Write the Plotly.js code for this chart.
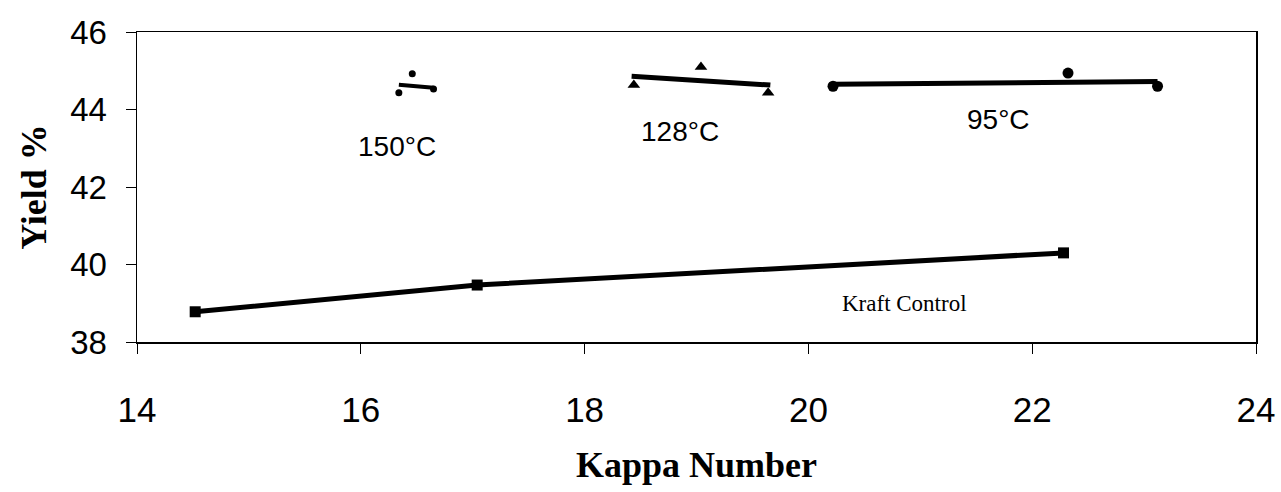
<!DOCTYPE html>
<html>
<head>
<meta charset="utf-8">
<script src="https://cdn.plot.ly/plotly-3.0.1.min.js"></script>
<style>html,body{margin:0;padding:0;background:#fff;}#chart{width:1281px;height:492px;}</style>
</head>
<body>
<div id="chart"></div>
<script>
// Kraft control
const kraftKappa = [14.52, 17.04, 22.28];
const kraftYield = [38.78, 39.47, 40.3];
// 150°C
const t150Kappa = [16.34, 16.46, 16.65];
const t150Yield = [44.43, 44.92, 44.53];
const t150FitKappa = [16.34, 16.65];
const t150FitYield = [44.64, 44.56];
// 128°C
const t128Kappa = [18.44, 19.04, 19.64];
const t128Yield = [44.63, 45.1, 44.43];
const t128FitKappa = [18.42, 19.66];
const t128FitYield = [44.86, 44.63];
// 95°C
const t95Kappa = [20.22, 22.32, 23.12];
const t95Yield = [44.6, 44.94, 44.6];
const t95FitKappa = [20.22, 23.12];
const t95FitYield = [44.65, 44.72];

const labels = [
  {text: '150°C', x: 16.32, y: 43.05, font: 'Arial, Liberation Sans, sans-serif', size: 28},
  {text: '128°C', x: 18.85, y: 43.43, font: 'Arial, Liberation Sans, sans-serif', size: 28},
  {text: '95°C', x: 21.70, y: 43.75, font: 'Arial, Liberation Sans, sans-serif', size: 28},
  {text: 'Kraft Control', x: 20.86, y: 39.0, font: 'Times New Roman, Liberation Serif, serif', size: 23}
];

const black = '#000';
const traces = [
  {x: kraftKappa, y: kraftYield, mode: 'lines+markers', line: {color: black, width: 5},
   marker: {symbol: 'square', size: 11, color: black}},
  {x: t150FitKappa, y: t150FitYield, mode: 'lines', line: {color: black, width: 4}},
  {x: t150Kappa, y: t150Yield, mode: 'markers', marker: {symbol: 'circle', size: 7, color: black}},
  {x: t128FitKappa, y: t128FitYield, mode: 'lines', line: {color: black, width: 5}},
  {x: t128Kappa, y: t128Yield, mode: 'markers', marker: {symbol: 'triangle-up', size: 11, color: black}},
  {x: t95FitKappa, y: t95FitYield, mode: 'lines', line: {color: black, width: 5}},
  {x: t95Kappa, y: t95Yield, mode: 'markers', marker: {symbol: 'circle', size: 11, color: black}}
];

const layout = {
  width: 1281, height: 492,
  margin: {l: 137, r: 25, t: 32, b: 150},
  paper_bgcolor: '#fff', plot_bgcolor: '#fff',
  showlegend: false,
  xaxis: {
    range: [14, 24], dtick: 2, tick0: 14,
    showgrid: false, zeroline: false,
    showline: true, linecolor: black, linewidth: 1.5, mirror: true,
    ticks: 'outside', ticklen: 10, tickcolor: black, tickwidth: 1,
    ticklabelstandoff: 26,
    tickfont: {family: 'Arial, Liberation Sans, sans-serif', size: 35, color: black},
    title: {text: 'Kappa Number', standoff: 24,
      font: {family: 'Times New Roman, Liberation Serif, serif', size: 36, color: black, weight: 'bold'}}
  },
  yaxis: {
    range: [38, 46], dtick: 2, tick0: 38,
    showgrid: false, zeroline: false,
    showline: true, linecolor: black, linewidth: 1.5, mirror: true,
    ticks: 'outside', ticklen: 10, tickcolor: black, tickwidth: 1,
    ticklabelstandoff: 12,
    tickfont: {family: 'Arial, Liberation Sans, sans-serif', size: 33, color: black},
    title: {text: 'Yield %', standoff: 12,
      font: {family: 'Times New Roman, Liberation Serif, serif', size: 36, color: black, weight: 'bold'}}
  },
  annotations: labels.map(l => ({
    text: l.text, x: l.x, y: l.y, xref: 'x', yref: 'y', showarrow: false,
    font: {family: l.font, size: l.size, color: black}
  }))
};

Plotly.newPlot('chart', traces, layout, {displayModeBar: false, staticPlot: true});
</script>
</body>
</html>
